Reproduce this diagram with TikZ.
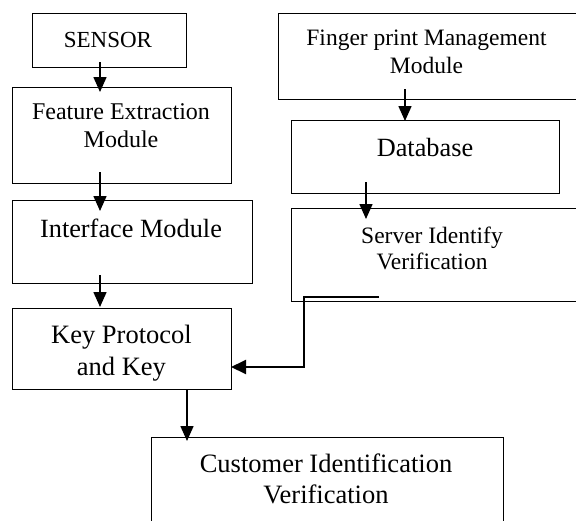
\documentclass[tikz,border=0pt]{standalone}
\usepackage{fontspec}
\setmainfont{Liberation Serif}
\usetikzlibrary{arrows.meta}
\begin{document}
\begin{tikzpicture}[x=1pt,y=-1pt,
  box/.style={draw, rectangle, line width=1pt, inner sep=0pt, outer sep=0pt},
  lbl/.style={anchor=base, align=center, inner sep=0pt, outer sep=0pt},
  large/.style={font=\fontsize{26.3}{31.5}\selectfont},
  arr/.style={line width=1.6pt, -{Triangle[length=15pt,width=13pt]}},
  back/.style={line width=1.9pt, -{Triangle[length=15pt,width=14pt]}},
]
\useasboundingbox (0,0) rectangle (576,520);
\clip (0,0) rectangle (576,520);
\fill[white] (0,0) rectangle (576,520);

% client side chain
\node[box, minimum width=154pt, minimum height=54pt] (sensor) at (109,40) {};
\node[box, minimum width=219pt, minimum height=96pt] (feat) at (121.5,135) {};
\node[box, minimum width=240pt, minimum height=83pt] (iface) at (132,241.5) {};
\node[box, minimum width=219pt, minimum height=81pt] (key) at (121.5,348.5) {};
\node[box, minimum width=352pt, minimum height=103pt] (cust) at (327,488.5) {};

% server side chain
\node[box, minimum width=300pt, minimum height=86pt] (finger) at (428,56) {};
\node[box, minimum width=268pt, minimum height=73pt] (db) at (425,156.5) {};
\node[box, minimum width=287pt, minimum height=93pt] (server) at (434.5,254.5) {};

% labels (base anchor = baseline of the last line)
\node[lbl, font=\fontsize{23}{27}\selectfont] (sensorT) at (108,47) {SENSOR};
\node[lbl, font=\fontsize{24}{27.5}\selectfont] (featT) at (121,147) {Feature Extraction\\Module};
\node[lbl, large] (ifaceT) at (131,237) {Interface Module};
\node[lbl, font=\fontsize{26.5}{32}\selectfont] (keyT) at (121.5,375) {Key Protocol\\and Key};
\node[lbl, font=\fontsize{26.5}{31.5}\selectfont] (custT) at (326,503.5) {Customer Identification\\Verification};
\node[lbl, font=\fontsize{23.5}{28.5}\selectfont] (fingerT) at (426.5,73.5) {Finger print Management\\Module};
\node[lbl, large] (dbT) at (425,156) {Database};
\node[lbl, font=\fontsize{23.5}{26.5}\selectfont] (serverT) at (432,269.5) {Server Identify\\Verification};

% flow arrows
\draw[arr] ([xshift=-9pt,yshift=5pt]sensor.south) -- ([xshift=-21.5pt,yshift=-5pt]feat.north);
\draw[arr] ([xshift=-21.5pt,yshift=11pt]feat.south) -- ([xshift=-32pt,yshift=-11pt]iface.north);
\draw[arr] ([xshift=-32pt,yshift=8pt]iface.south) -- ([xshift=-21.5pt,yshift=1pt]key.north);
\draw[arr] ([xshift=65.5pt]key.south) -- ([xshift=-140pt,yshift=-4pt]cust.north);
\draw[arr] ([xshift=-23pt,yshift=10pt]finger.south) -- ([xshift=-20pt,yshift=-1pt]db.north);
\draw[arr] ([xshift=-59pt,yshift=11pt]db.south) -- ([xshift=-68.5pt,yshift=-11pt]server.north);

% feedback from server verification to key protocol
\draw[back] ([xshift=-55.5pt,yshift=4pt]server.south) -- ++(-75,0)
  |- ([yshift=-18.5pt]key.east);
\end{tikzpicture}
\end{document}
